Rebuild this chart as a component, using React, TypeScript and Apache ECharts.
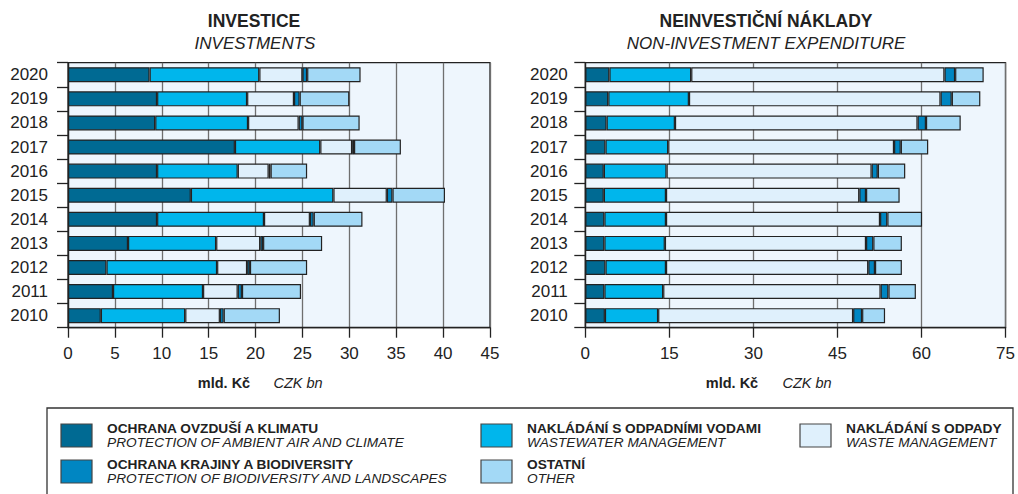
import React, { useEffect, useRef } from 'react';
import * as echarts from 'echarts';

const years = ['2010', '2011', '2012', '2013', '2014', '2015', '2016', '2017', '2018', '2019', '2020'];

// INVESTICE / INVESTMENTS (CZK bn), 2010 -> 2020
const invAir = [3.5, 4.8, 4.1, 6.4, 9.5, 13.1, 9.5, 17.8, 9.3, 9.5, 8.7];
const invWater = [9.0, 9.6, 11.8, 9.4, 11.4, 15.2, 8.6, 9.1, 9.9, 9.6, 11.7];
const invWaste = [3.7, 3.7, 3.2, 4.7, 4.9, 5.7, 3.3, 3.4, 5.4, 5.0, 4.6];
const invBio = [0.4, 0.45, 0.3, 0.3, 0.4, 0.6, 0.2, 0.2, 0.4, 0.6, 0.5];
const invOther = [6.0, 6.3, 6.1, 6.3, 5.2, 5.6, 3.9, 5.0, 6.1, 5.3, 5.7];

// NEINVESTIČNÍ NÁKLADY / NON-INVESTMENT EXPENDITURE (CZK bn), 2010 -> 2020
const nonAir = [3.5, 3.4, 3.6, 3.4, 3.4, 3.3, 3.3, 3.6, 3.8, 4.1, 4.3];
const nonWater = [9.5, 10.5, 10.8, 10.8, 11.0, 11.1, 11.2, 11.2, 12.2, 14.4, 14.6];
const nonWaste = [34.8, 38.8, 36.1, 35.9, 38.2, 34.5, 36.6, 40.3, 43.3, 44.9, 45.2];
const nonBio = [1.6, 1.4, 1.2, 1.3, 1.3, 1.2, 1.1, 1.2, 1.5, 2.0, 1.9];
const nonOther = [4.1, 4.9, 4.8, 5.1, 6.2, 6.0, 4.9, 4.9, 6.2, 5.1, 5.1];

const leftTicks = { min: 0, max: 45, interval: 5 };
const rightTicks = { min: 0, max: 75, interval: 15 };

// category keys in stacking order
const stackKeys = ['air', 'water', 'waste', 'bio', 'other'];
const namesCz: Record<string, string> = {
  air: 'OCHRANA OVZDUŠÍ A KLIMATU',
  bio: 'OCHRANA KRAJINY A BIODIVERSITY',
  water: 'NAKLÁDÁNÍ S ODPADNÍMI VODAMI',
  other: 'OSTATNÍ',
  waste: 'NAKLÁDÁNÍ S ODPADY',
};
const namesEn: Record<string, string> = {
  air: 'PROTECTION OF AMBIENT AIR AND CLIMATE',
  bio: 'PROTECTION OF BIODIVERSITY AND LANDSCAPES',
  water: 'WASTEWATER MANAGEMENT',
  other: 'OTHER',
  waste: 'WASTE MANAGEMENT',
};
const colors: Record<string, string> = {
  air: '#006a93',
  bio: '#0086c2',
  water: '#00b6ec',
  waste: '#dff0fc',
  other: '#a3d9f6',
};
// legend order: column by column
const legendOrder = [['air', 'bio'], ['water', 'other'], ['waste']];

const FONT = '"Liberation Sans", Arial, Helvetica, sans-serif';
const DARK = '#222';

const invData: Record<string, number[]> = { air: invAir, water: invWater, waste: invWaste, bio: invBio, other: invOther };
const nonData: Record<string, number[]> = { air: nonAir, water: nonWater, waste: nonWaste, bio: nonBio, other: nonOther };

function buildSeries(data: Record<string, number[]>, idx: number, stack: string) {
  return stackKeys.map((k) => ({
    type: 'bar',
    name: namesEn[k],
    stack,
    xAxisIndex: idx,
    yAxisIndex: idx,
    barWidth: 15,
    data: data[k],
    itemStyle: { color: colors[k], borderColor: DARK, borderWidth: 1.2 },
  }));
}

function xAxisCfg(idx: number, t: { min: number; max: number; interval: number }) {
  return {
    type: 'value',
    gridIndex: idx,
    min: t.min,
    max: t.max,
    interval: t.interval,
    axisLine: { show: true, lineStyle: { color: DARK, width: 1.3 } },
    axisTick: { show: true, length: 10, lineStyle: { color: DARK, width: 1.3 } },
    axisLabel: { color: DARK, fontSize: 17, fontFamily: FONT, margin: 17 },
    splitLine: { show: true, lineStyle: { color: '#6f6f6f', width: 1.3 } },
  };
}

function yAxisCfg(idx: number, margin: number) {
  return {
    type: 'category',
    gridIndex: idx,
    data: years,
    axisLine: { show: true, lineStyle: { color: DARK, width: 1.3 } },
    axisTick: { show: true, length: 11, lineStyle: { color: DARK, width: 1.3 } },
    axisLabel: { color: DARK, fontSize: 17, fontFamily: FONT, margin },
    splitLine: { show: false },
  };
}

function txt(x: number, y: number, text: string, size: number, weight: string, style: string, align = 'center') {
  return {
    type: 'text',
    x,
    y,
    silent: true,
    style: {
      text,
      fill: DARK,
      fontSize: size,
      fontWeight: weight,
      fontStyle: style,
      fontFamily: FONT,
      align,
      textAlign: align,
      verticalAlign: 'middle',
      textVerticalAlign: 'middle',
    },
  };
}

function legendGraphics() {
  const colX = [61, 481, 800];
  const rowY = [424, 460];
  const els: any[] = [
    {
      type: 'rect',
      shape: { x: 47, y: 408, width: 966, height: 120 },
      style: { fill: '#fff', stroke: '#333', lineWidth: 1.3 },
      silent: true,
    },
  ];
  legendOrder.forEach((col, ci) => {
    col.forEach((k, ri) => {
      const sx = colX[ci];
      const sy = rowY[ri];
      els.push({
        type: 'rect',
        shape: { x: sx, y: sy, width: 31, height: 23 },
        style: { fill: colors[k], stroke: '#444', lineWidth: 1.2 },
        silent: true,
      });
      els.push(txt(sx + 46, sy + 4.5, namesCz[k], 13.7, 'bold', 'normal', 'left'));
      els.push(txt(sx + 46, sy + 18.5, namesEn[k], 13.7, 'normal', 'italic', 'left'));
    });
  });
  return els;
}

export default function App() {
  const ref = useRef<HTMLDivElement>(null);
  useEffect(() => {
    document.body.style.margin = '0';
    const chart = echarts.init(ref.current!, null, { renderer: 'svg' });
    const option: any = {
      animation: false,
      textStyle: { fontFamily: FONT },
      grid: [
        {
          left: 68, right: 528, top: 62.7, bottom: 166.3, show: true,
          backgroundColor: '#eef6fd', borderColor: DARK, borderWidth: 1.3,
        },
        {
          left: 585.3, right: 10.3, top: 62.7, bottom: 166.3, show: true,
          backgroundColor: '#eef6fd', borderColor: DARK, borderWidth: 1.3,
        },
      ],
      xAxis: [xAxisCfg(0, leftTicks), xAxisCfg(1, rightTicks)],
      yAxis: [yAxisCfg(0, 20), yAxisCfg(1, 17.5)],
      series: [...buildSeries(invData, 0, 'inv'), ...buildSeries(nonData, 1, 'non')],
      graphic: [
        txt(254, 21, 'INVESTICE', 17.5, 'bold', 'normal'),
        txt(255, 43, 'INVESTMENTS', 17, 'normal', 'italic'),
        txt(766, 21, 'NEINVESTIČNÍ NÁKLADY', 17.5, 'bold', 'normal'),
        txt(766, 43, 'NON-INVESTMENT EXPENDITURE', 17, 'normal', 'italic'),
        txt(224, 383, 'mld. Kč', 14.5, 'bold', 'normal'),
        txt(298, 383, 'CZK bn', 14.5, 'normal', 'italic'),
        txt(732, 383, 'mld. Kč', 14.5, 'bold', 'normal'),
        txt(807, 383, 'CZK bn', 14.5, 'normal', 'italic'),
        ...legendGraphics(),
      ],
    };
    chart.setOption(option);
    return () => chart.dispose();
  }, []);
  return <div ref={ref} style={{ width: 1018, height: 494 }} />;
}
